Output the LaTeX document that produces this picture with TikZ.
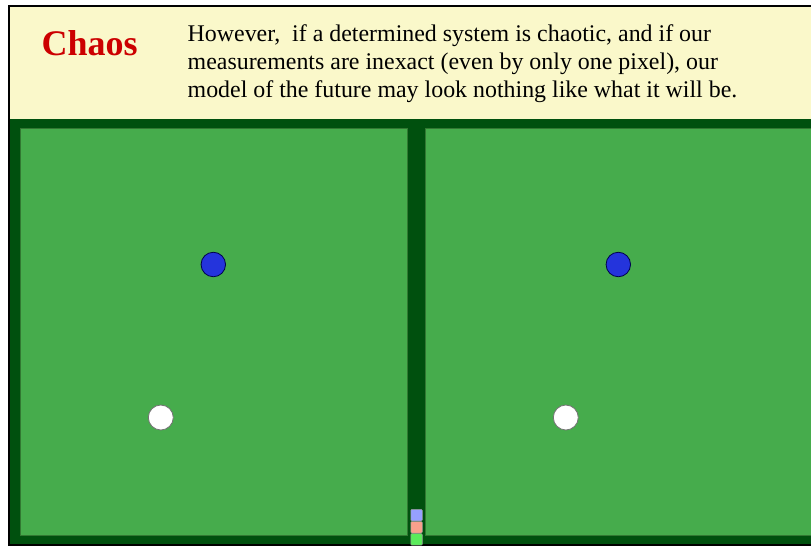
\documentclass[tikz,border=0pt]{standalone}
\usepackage{fontspec}
\setmainfont{Liberation Serif}
\definecolor{beige}{RGB}{250,248,202}
\definecolor{darkgr}{RGB}{0,80,14}
\definecolor{lightgr}{RGB}{70,172,76}
\definecolor{panelline}{RGB}{50,120,50}
\definecolor{chaosred}{RGB}{204,0,0}
\definecolor{ballblue}{RGB}{36,52,220}
\definecolor{sqblue}{RGB}{150,160,255}
\definecolor{sqred}{RGB}{250,160,140}
\definecolor{sqgreen}{RGB}{90,235,90}
\tikzset{
  panel/.style={fill=lightgr, draw=panelline, line width=1pt},
  blueball/.style={circle, fill=ballblue, draw=black!70!blue, line width=0.8pt, minimum size=24.5pt, inner sep=0pt},
  whiteball/.style={circle, fill=white, draw=black!55, line width=0.8pt, minimum size=25pt, inner sep=0pt},
  sq/.style={draw=black!40, line width=0.5pt, minimum size=11.5pt, inner sep=0pt, rounded corners=1pt},
  bodytext/.style={anchor=base west, inner sep=0pt, font=\fontsize{23.9}{28}\selectfont}
}
\begin{document}
\begin{tikzpicture}[x=1pt,y=-1pt]
\useasboundingbox (0,0) rectangle (811,546);
\fill[white] (0,0) rectangle (811,546);
% outer frame
\fill[black] (8,5) rectangle (815,548);
\fill[beige] (10,7) rectangle (815,119);
\fill[darkgr] (10,119) rectangle (815,544);
% panels
\draw[panel] (20,128) rectangle (407,535);
\draw[panel] (425,128) rectangle (830,535);
% balls
\node[blueball] (b1) at (213.3,264.5) {};
\node[whiteball] (w1) at (160.8,417.5) {};
\node[blueball] (b2) at (618.3,264.5) {};
\node[whiteball] (w2) at (565.8,417.5) {};
% small squares
\node[sq, fill=sqblue] (s1) at (416.5,515.2) {};
\node[sq, fill=sqred] (s2) at (416.5,527.3) {};
\node[sq, fill=sqgreen] (s3) at (416.5,539.4) {};
% texts
\node[anchor=base west, inner sep=0pt, text=chaosred, font=\fontsize{36}{40}\selectfont\bfseries] (title) at (41.5,55.7) {Chaos};
\node[bodytext] (l1) at (187.5,41.7) {However,\ \ if a determined system is chaotic, and if our};
\node[bodytext] (l2) at (187.5,69.7) {measurements are inexact (even by only one pixel), our};
\node[bodytext] (l3) at (187.5,97.7) {model of the future may look nothing like what it will be.};
\end{tikzpicture}
\end{document}
